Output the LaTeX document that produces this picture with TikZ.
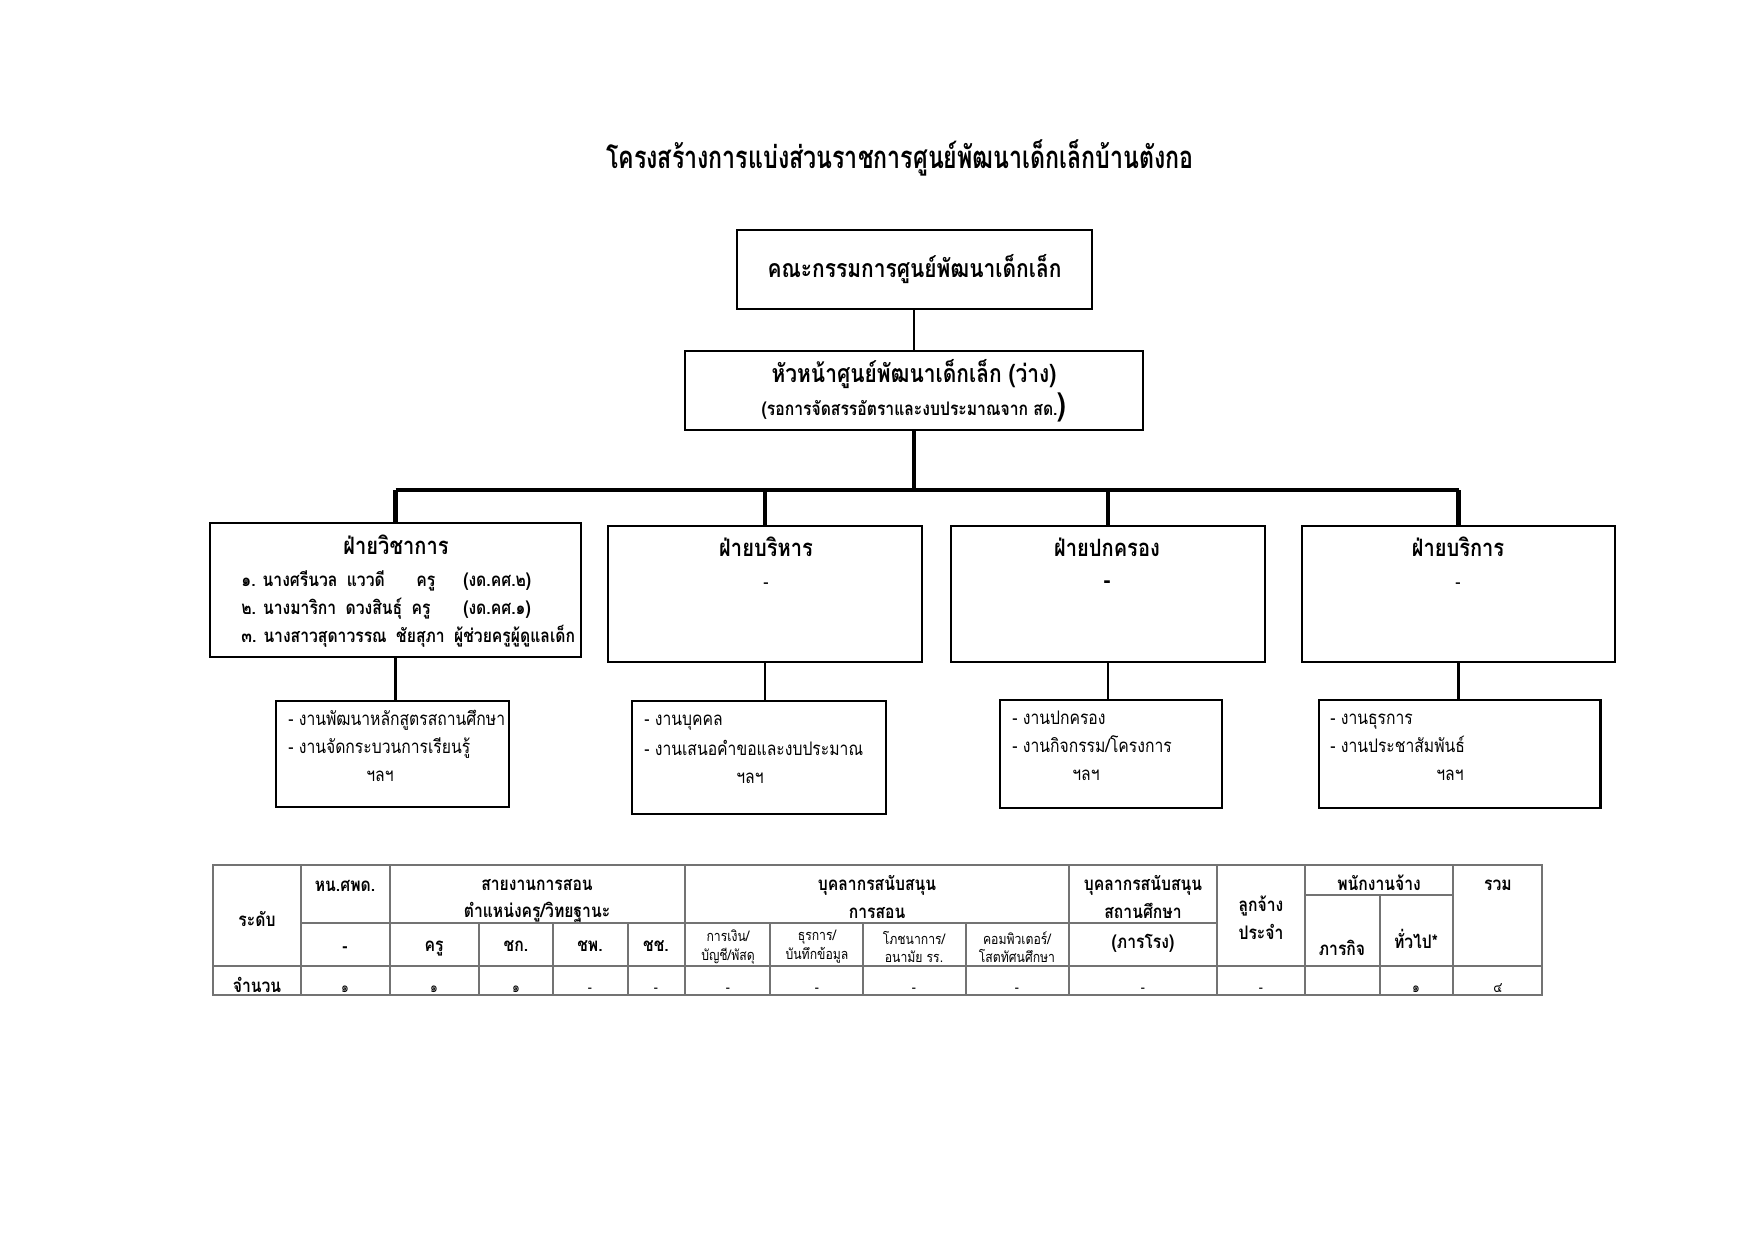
\documentclass[tikz,border=0pt]{standalone}
\usepackage{fontspec}
\newfontfamily\thaifont[Script=Thai, FakeStretch=0.84]{Loma}
\newfontfamily\titlethai[Script=Thai, FakeStretch=0.745]{Loma}
\definecolor{tablegray}{gray}{0.45}

\begin{document}
\begin{tikzpicture}[x=0.16923mm, y=-0.16923mm, line width=1.3pt,
    font=\thaifont\fontsize{10pt}{12pt}\selectfont,
    box/.style={draw, line width=1.3pt, inner sep=0pt},
    txt/.style={inner sep=0pt, text height=0.9ex, text depth=0pt},
    bus/.style={line width=2pt},
    link/.style={line width=1.2pt},
    grid/.style={draw=tablegray, line width=1pt},
    titlefont/.style={font=\titlethai\bfseries\fontsize{15pt}{18pt}\selectfont},
    bigbold/.style={font=\thaifont\bfseries\fontsize{12pt}{14pt}\selectfont},
    heading/.style={font=\thaifont\bfseries\fontsize{11.5pt}{14pt}\selectfont},
    member/.style={font=\thaifont\bfseries\fontsize{9pt}{12pt}\selectfont},
    task/.style={font=\thaifont\fontsize{9pt}{12pt}\selectfont},
    thead/.style={font=\thaifont\bfseries\fontsize{9pt}{13.4pt}\selectfont, align=center},
    tsmall/.style={font=\thaifont\fontsize{7pt}{9pt}\selectfont, align=center}]
    \useasboundingbox (0,0) rectangle (1755,1241);

    \node[txt, titlefont] (title) at (900,164)
    {โครงสร้างการแบ่งส่วนราชการศูนย์พัฒนาเด็กเล็กบ้านตังกอ};

    % top of the chart
    \node[box, bigbold, minimum width=6.01cm, minimum height=1.34cm]
    (board) at (914.5,269.5) {คณะกรรมการศูนย์พัฒนาเด็กเล็ก};
    \node[box, bigbold, align=center, minimum width=7.75cm, minimum height=1.34cm]
    (head) at (914,390.5) {หัวหน้าศูนย์พัฒนาเด็กเล็ก (ว่าง)\\[2pt]
    {\fontsize{9pt}{11pt}\selectfont (รอการจัดสรรอัตราและงบประมาณจาก สด.{\fontsize{15pt}{15pt}\selectfont )}}};

    % the four sections
    \node[box, minimum width=6.28cm, minimum height=2.27cm] (acad) at (395.5,590) {};
    \node[box, minimum width=5.31cm, minimum height=2.30cm] (admin) at (765,594) {};
    \node[box, minimum width=5.31cm, minimum height=2.30cm] (rule) at (1108,594) {};
    \node[box, minimum width=5.30cm, minimum height=2.30cm] (service) at (1458.5,594) {};

    \node[txt, heading] (acadT) at (396,550) {ฝ่ายวิชาการ};
    \node[txt, heading] (adminT) at (766,552) {ฝ่ายบริหาร};
    \node[txt, heading] (ruleT) at (1107,552) {ฝ่ายปกครอง};
    \node[txt, heading] (serviceT) at (1458,552) {ฝ่ายบริการ};
    \node[txt, task] (adminD) at (766,584) {-};
    \node[txt, bigbold] (ruleD) at (1107,584) {-};
    \node[txt, task] (serviceD) at (1458,584) {-};

    \node[txt, member, anchor=west] (m1) at (240,582) {๑. นางศรีนวล\enspace แววดี};
    \node[txt, member, anchor=west] (m1r) at (415,582) {ครู};
    \node[txt, member, anchor=west] (m1g) at (462,582) {(งด.คศ.๒)};
    \node[txt, member, anchor=west] (m2) at (240,610) {๒. นางมาริกา\enspace ดวงสินธุ์\enspace ครู};
    \node[txt, member, anchor=west] (m2g) at (462,610) {(งด.คศ.๑)};
    \node[txt, member, anchor=west] (m3) at (240,638)
    {๓. นางสาวสุดาวรรณ\enspace ชัยสุภา\enspace ผู้ช่วยครูผู้ดูแลเด็ก};

    % work boxes
    \node[box, minimum width=3.94cm, minimum height=1.79cm] (acadW) at (392.5,754) {};
    \node[box, minimum width=4.30cm, minimum height=1.91cm] (adminW) at (759,757.5) {};
    \node[box, minimum width=3.76cm, minimum height=1.83cm] (ruleW) at (1111,754) {};
    \node[box, minimum width=4.76cm, minimum height=1.83cm] (serviceW) at (1459.5,754) {};

    \node[txt, task, anchor=west] (w1) at (287,721) {- งานพัฒนาหลักสูตรสถานศึกษา};
    \node[txt, task, anchor=west] (w2) at (287,749) {- งานจัดกระบวนการเรียนรู้};
    \node[txt, task] (w3) at (380,777) {ฯลฯ};
    \node[txt, task, anchor=west] (w4) at (643,721) {- งานบุคคล};
    \node[txt, task, anchor=west] (w5) at (643,751) {- งานเสนอคำขอและงบประมาณ};
    \node[txt, task] (w6) at (750,779) {ฯลฯ};
    \node[txt, task, anchor=west] (w7) at (1011,720) {- งานปกครอง};
    \node[txt, task, anchor=west] (w8) at (1011,748) {- งานกิจกรรม/โครงการ};
    \node[txt, task] (w9) at (1086,776) {ฯลฯ};
    \node[txt, task, anchor=west] (w10) at (1329,720) {- งานธุรการ};
    \node[txt, task, anchor=west] (w11) at (1329,748) {- งานประชาสัมพันธ์};
    \node[txt, task] (w12) at (1450,776) {ฯลฯ};

    % connectors
    \coordinate (bus) at (0,490);
    \draw[link] (board.south) -- (board.south -| head.north) -- (head.north);
    \draw[bus] (head.south) -- (head.south |- bus);
    \draw[bus] (acad.north |- bus) -- (service.north |- bus);
    \foreach \s in {acad, admin, rule, service}
        \draw[bus] (\s.north |- bus) -- (\s.north);
    \draw[link] (acad.south) -- (acad.south |- acadW.north);
    \draw[link] (admin.south) -- (admin.south |- adminW.north);
    \draw[link] (rule.south) -- (rule.south |- ruleW.north);
    \draw[link] (service.south) -- (service.south |- serviceW.north);

    % staff table
    \draw[grid] (213,865) rectangle (1542,995);
    \draw[grid] (213,966) -- (1542,966);
    \draw[grid] (301,923) -- (1217,923);
    \draw[grid] (1305,895) -- (1453,895);
    \foreach \x in {301,390,685,1069,1217,1305,1453}
        \draw[grid] (\x,865) -- (\x,995);
    \foreach \x in {479,553,628,770,863,966}
        \draw[grid] (\x,923) -- (\x,995);
    \draw[grid] (1380,895) -- (1380,995);

    \node[txt, thead] (level) at (257,922) {ระดับ};
    \node[txt, thead] (count) at (257,988) {จำนวน};
    \node[txt, thead] (chief) at (345,887) {หน.ศพด.};
    \node[txt, thead] (chiefD) at (345,948) {-};
    \node[thead, inner sep=0pt] (teach) at (537,901) {สายงานการสอน\\ตำแหน่งครู/วิทยฐานะ};
    \node[txt, thead] (c1) at (434,947) {ครู};
    \node[txt, thead] (c2) at (516,947) {ชก.};
    \node[txt, thead] (c3) at (590,947) {ชพ.};
    \node[txt, thead] (c4) at (656,947) {ชช.};
    \node[thead, inner sep=0pt] (supT) at (877,897) {บุคลากรสนับสนุน\\การสอน};
    \node[tsmall, inner sep=0pt] (s1) at (728,947) {การเงิน/\\บัญชี/พัสดุ};
    \node[tsmall, inner sep=0pt] (s2) at (817,947) {ธุรการ/\\บันทึกข้อมูล};
    \node[tsmall, inner sep=0pt] (s3) at (914,947) {โภชนาการ/\\อนามัย รร.};
    \node[tsmall, inner sep=0pt] (s4) at (1017,947) {คอมพิวเตอร์/\\โสตทัศนศึกษา};
    \node[thead, inner sep=0pt] (supS) at (1143,897) {บุคลากรสนับสนุน\\สถานศึกษา};
    \node[txt, thead] (janitor) at (1143,944) {(ภารโรง)};
    \node[thead, inner sep=0pt] (perm) at (1261,918) {ลูกจ้าง\\ประจำ};
    \node[txt, thead] (contract) at (1379,886) {พนักงานจ้าง};
    \node[txt, thead] (mission) at (1342,951) {ภารกิจ};
    \node[txt, thead] (general) at (1416,944) {ทั่วไป*};
    \node[txt, thead] (total) at (1498,886) {รวม};

    \foreach \x/\v in {345/๑, 434/๑, 516/๑, 590/-, 656/-, 728/-, 817/-, 914/-,
        1017/-, 1143/-, 1261/-, 1416/๑, 1498/๔}
        \node[txt, tsmall] (d\x) at (\x,988) {\v};
\end{tikzpicture}
\end{document}
